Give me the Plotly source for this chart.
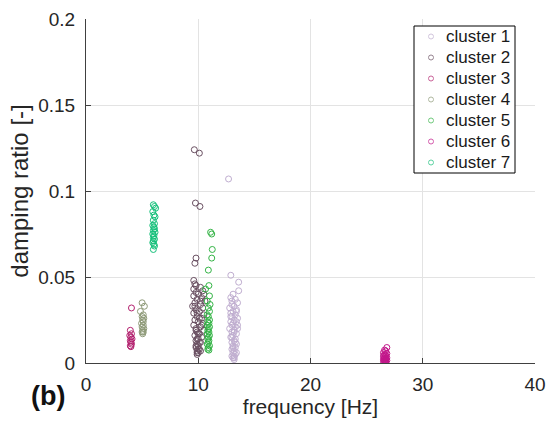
import plotly.graph_objects as go

# ---- data ----
x_ticks = [0, 10, 20, 30, 40]
x_tick_labels = ["0", "10", "20", "30", "40"]
y_ticks = [0, 0.05, 0.1, 0.15, 0.2]
y_tick_labels = ["0", "0.05", "0.1", "0.15", "0.2"]

cluster_names = ["cluster 1", "cluster 2", "cluster 3", "cluster 4",
                 "cluster 5", "cluster 6", "cluster 7"]
cluster_colors = ["#c0aed0", "#6a5062", "#b3206e", "#8e9a78",
                  "#34b446", "#c2168a", "#15c07a"]

f1 = [12.7, 12.9, 13.6, 13.6, 13.1, 12.9, 13.3, 13.5, 13.0, 13.2, 12.8, 13.4,
      13.1, 12.9, 13.3, 13.0, 13.5, 13.2, 12.9, 13.4, 13.1, 13.0, 13.3, 12.8,
      13.5, 13.2, 13.0, 13.4, 13.1, 12.9, 13.3, 13.2, 13.0, 13.4, 13.1, 13.3,
      13.0, 13.2, 13.1, 13.3, 13.2, 13.0, 13.1, 13.2,
      13.0, 13.4, 12.9, 13.5, 13.2, 13.0, 13.3, 13.1, 13.4, 13.2]
d1 = [0.107, 0.051, 0.047, 0.042, 0.040, 0.038, 0.037, 0.035, 0.034, 0.033, 0.032, 0.031,
      0.030, 0.029, 0.028, 0.027, 0.026, 0.025, 0.024, 0.024, 0.023, 0.022, 0.021, 0.020,
      0.020, 0.019, 0.018, 0.017, 0.016, 0.015, 0.014, 0.013, 0.012, 0.011, 0.010, 0.009,
      0.008, 0.007, 0.006, 0.005, 0.004, 0.004, 0.003, 0.002,
      0.036, 0.030, 0.027, 0.022, 0.018, 0.015, 0.012, 0.009, 0.006, 0.003]

f2 = [9.65, 10.1, 9.75, 10.15, 9.8, 9.7,
      9.6, 9.7, 10.2, 9.6, 10.4, 9.8, 10.5, 9.6, 10.3, 9.9, 10.6, 9.7,
      10.2, 9.5, 10.4, 9.8, 10.1, 9.6, 10.5, 9.9, 10.3, 9.7, 10.0, 10.4,
      9.6, 10.2, 9.8, 10.5, 9.9, 10.1, 9.7, 10.3, 10.0, 9.8, 10.2, 9.9,
      10.0, 9.8, 10.1, 9.9, 10.0, 9.9,
      9.8, 10.0, 10.2, 9.7, 9.9, 10.1, 10.3, 9.8, 10.0, 9.9, 10.1, 9.8, 10.0, 10.2, 9.9]
d2 = [0.124, 0.122, 0.093, 0.091, 0.061, 0.058,
      0.048, 0.046, 0.044, 0.043, 0.042, 0.041, 0.040, 0.039, 0.038, 0.037, 0.036, 0.035,
      0.034, 0.033, 0.032, 0.031, 0.030, 0.029, 0.028, 0.027, 0.026, 0.025, 0.024, 0.023,
      0.022, 0.021, 0.020, 0.019, 0.018, 0.017, 0.016, 0.015, 0.014, 0.013, 0.012, 0.011,
      0.010, 0.009, 0.008, 0.007, 0.006, 0.005,
      0.045, 0.040, 0.036, 0.033, 0.029, 0.026, 0.022, 0.019, 0.017, 0.014, 0.012, 0.010,
      0.008, 0.007, 0.006]

f3 = [4.05, 3.95, 4.05, 3.9, 4.0, 4.1, 3.95, 4.0, 4.05, 3.95, 4.0]
d3 = [0.032, 0.019, 0.017, 0.016, 0.015, 0.014, 0.013, 0.012, 0.011, 0.010, 0.0095]

f4 = [5.0, 5.2, 4.85, 5.1, 5.0, 5.15, 5.05, 5.1, 4.95, 5.1, 5.0, 5.15, 5.05, 5.0, 5.1, 5.05]
d4 = [0.035, 0.033, 0.030, 0.028, 0.027, 0.026, 0.025, 0.024, 0.023, 0.022, 0.021, 0.020,
      0.019, 0.018, 0.018, 0.017]

f5 = [11.1, 11.2, 11.25, 11.2, 10.9, 10.95, 10.65, 11.0, 10.8, 11.05, 10.9, 11.0, 10.8,
      10.9, 11.0, 10.85, 10.95, 10.8, 11.0, 10.9, 10.85, 10.95, 10.8, 11.0, 10.9, 10.85,
      10.95, 10.9, 10.8, 11.0, 10.9, 10.85, 10.95]
d5 = [0.076, 0.075, 0.066, 0.061, 0.054, 0.045, 0.043, 0.039, 0.036, 0.034, 0.032, 0.030,
      0.028, 0.027, 0.025, 0.024, 0.023, 0.022, 0.021, 0.020, 0.019, 0.018, 0.017, 0.016,
      0.015, 0.014, 0.013, 0.012, 0.011, 0.010, 0.009, 0.008, 0.0075]

f6 = [26.8, 26.6, 26.7, 26.5, 26.8, 26.6, 26.7, 26.5, 26.6, 26.8, 26.7, 26.6, 26.5, 26.7,
      26.6, 26.8, 26.7, 26.6, 26.5, 26.7, 26.6, 26.7]
d6 = [0.009, 0.0075, 0.007, 0.006, 0.0055, 0.005, 0.0045, 0.004, 0.0035, 0.003, 0.0028,
      0.0025, 0.0022, 0.002, 0.0017, 0.0015, 0.0012, 0.001, 0.0008, 0.0005, 0.0003, 0.0]

f7 = [6.0, 6.1, 6.2, 5.95, 6.05, 6.15, 6.0, 6.1, 5.95, 6.05, 6.1, 6.0, 6.15, 5.95, 6.05,
      6.0, 6.1, 6.0, 5.95, 6.05, 6.1, 6.0]
d7 = [0.092, 0.091, 0.090, 0.088, 0.086, 0.085, 0.083, 0.081, 0.080, 0.079, 0.078, 0.077,
      0.076, 0.075, 0.074, 0.073, 0.072, 0.071, 0.070, 0.069, 0.068, 0.066]

freqs = [f1, f2, f3, f4, f5, f6, f7]
damps = [d1, d2, d3, d4, d5, d6, d7]

# ---- layout geometry (pixels) ----
W, H = 548, 422
ML, MR, MT, MB = 86, 13, 19, 59
PW, PH = W - ML - MR, H - MT - MB


def px_x(p):
    return (p - ML) / PW


def px_y(p):
    return (H - MB - p) / PH


fig = go.Figure()
for name, col, fx, dy in zip(cluster_names, cluster_colors, freqs, damps):
    assert len(fx) == len(dy)
    fig.add_trace(go.Scatter(
        x=fx, y=dy, mode="markers", name=name, showlegend=False,
        marker=dict(symbol="circle-open", size=6, color=col, line=dict(width=1, color=col)),
    ))

axis_col = "#404040"
grid_col = "#e3e3e3"
fig.update_layout(
    width=W, height=H, autosize=False,
    margin=dict(l=ML, r=MR, t=MT, b=MB),
    paper_bgcolor="white", plot_bgcolor="white",
    font=dict(family="Arial, Liberation Sans, sans-serif", color="#262626"),
    xaxis=dict(range=[0, 40], tickmode="array", tickvals=x_ticks, ticktext=x_tick_labels,
               automargin=False,
               showgrid=True, gridcolor=grid_col, zeroline=False,
               showline=True, linecolor=axis_col, linewidth=1,
               ticks="inside", ticklen=5, tickcolor=axis_col,
               tickfont=dict(size=19), ticklabelstandoff=4,
               title=dict(text="frequency [Hz]", font=dict(size=21), standoff=2)),
    yaxis=dict(range=[0, 0.2], tickmode="array", tickvals=y_ticks, ticktext=y_tick_labels,
               automargin=False,
               showgrid=True, gridcolor=grid_col, zeroline=False,
               showline=True, linecolor=axis_col, linewidth=1,
               ticks="inside", ticklen=5, tickcolor=axis_col,
               tickfont=dict(size=19), ticklabelstandoff=6,
               title=dict(text="damping ratio [-]", font=dict(size=24), standoff=2)),
)

# ---- legend drawn as a box with small circles and text ----
lg_left, lg_right, lg_top, lg_bottom = 414, 515, 26, 173
fig.add_shape(type="rect", xref="paper", yref="paper",
              x0=px_x(lg_left), x1=px_x(lg_right), y0=px_y(lg_bottom), y1=px_y(lg_top),
              line=dict(color="black", width=1), fillcolor="white", layer="above")
row_h = (lg_bottom - lg_top) / len(cluster_names)
for i, (name, col) in enumerate(zip(cluster_names, cluster_colors)):
    cy = lg_top + row_h * (i + 0.5)
    cx = 431
    r = 2.5
    fig.add_shape(type="circle", xref="paper", yref="paper",
                  x0=px_x(cx - r), x1=px_x(cx + r), y0=px_y(cy + r), y1=px_y(cy - r),
                  line=dict(color=col, width=1), opacity=0.7, layer="above")
    fig.add_annotation(text=name, xref="paper", yref="paper",
                       x=px_x(444), y=px_y(cy), xanchor="left", yanchor="middle",
                       showarrow=False, font=dict(size=17, color="#1a1a1a"))

fig.add_annotation(text="<b>(b)</b>", xref="paper", yref="paper",
                   x=px_x(48), y=px_y(396), xanchor="center", yanchor="middle",
                   showarrow=False, font=dict(size=27, color="#111111"))

fig.write_html(
    "out.html",
    config={"displayModeBar": False, "responsive": False},
    post_script=("document.documentElement.style.margin='0';"
                 "document.documentElement.style.overflow='hidden';"
                 "document.body.style.margin='0';"
                 "document.body.style.overflow='hidden';"),
)
